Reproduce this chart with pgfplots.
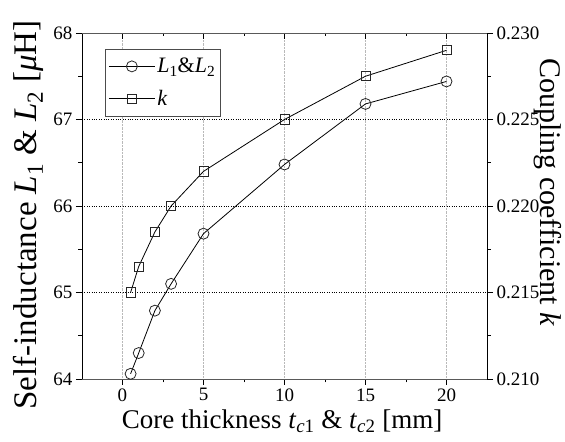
\documentclass[border=0pt]{standalone}
\usepackage{pgfplots}
\usepackage{pgfplotstable}
\pgfplotsset{compat=1.18}
\usepackage{fontspec}
\setmainfont{Liberation Serif}

% Core thickness sweep: self-inductance and coupling coefficient
\pgfplotstableread{
t    L      k
0.5  64.06  0.2150
1    64.30  0.2165
2    64.79  0.2185
3    65.10  0.2200
5    65.68  0.2220
10   66.48  0.2250
15   67.18  0.2275
20   67.44  0.2290
}\sweep

\pgfplotsset{
  common/.style={
    scale only axis, width=405pt, height=346pt,
    xmin=-2.5, xmax=22.5,
    /pgf/number format/assume math mode=true,
    tick label style={font=\rmfamily\fontsize{19}{19}\selectfont},
    major tick length=6pt, minor tick length=3.5pt,
    tick style={black, line width=0.6pt},
    axis line style={line width=0.9pt, -},
  },
  Lstyle/.style={black, line width=0.8pt, mark=o, mark size=5.5pt,
    mark options={fill=white, draw=black!85, line width=0.8pt}},
  kstyle/.style={black, line width=0.8pt, mark=square, mark size=4.6pt,
    mark options={fill=white, draw=black!85, line width=0.8pt}},
}

\begin{document}
\rmfamily
\begin{tikzpicture}[font=\rmfamily]
% left axis: self-inductance
\begin{axis}[common, name=main,
  axis x line*=bottom, axis y line*=left,
  x axis line style={black!65},
  ymin=64, ymax=68, ytick={64,65,66,67,68}, minor y tick num=1,
  xtick={0,5,10,15,20}, minor x tick num=1,
  tick align=outside,
  grid=major,
  x grid style={gray!55, densely dotted, line width=0.7pt},
  y grid style={black, dotted, line width=0.7pt},
  xlabel={Core thickness \textit{t}\textsubscript{\textit{c}1} \& \textit{t}\textsubscript{\textit{c}2} [mm]},
  xlabel style={font=\rmfamily\fontsize{27}{27}\selectfont, at={(axis description cs:0.494,-0.121)}, anchor=center},
  ylabel={Self-inductance \textit{L}\textsubscript{1} \& \textit{L}\textsubscript{2} [\textit{μ}H]},
  ylabel style={font=\rmfamily\fontsize{33}{33}\selectfont, at={(axis description cs:-0.133,0.474)}, anchor=center},
]
\addplot[Lstyle] table[x=t, y=L] {\sweep};
\end{axis}

% top axis line with inward ticks
\begin{axis}[common,
  axis x line*=top, axis y line=none,
  x axis line style={black!65},
  ymin=0, ymax=1,
  xtick={0,5,10,15,20}, minor x tick num=1, xticklabels={},
  tick align=inside,
]
\end{axis}

% right axis: coupling coefficient
\begin{axis}[common,
  axis y line*=right, axis x line=none,
  ymin=0.210, ymax=0.230,
  ytick={0.210,0.215,0.220,0.225,0.230}, minor y tick num=1,
  yticklabel style={/pgf/number format/.cd, fixed, fixed zerofill, precision=3},
  scaled y ticks=false,
  tick align=outside,
  ylabel={Coupling coefficient \textit{k}},
  ylabel style={font=\rmfamily\fontsize{30}{30}\selectfont, rotate=180, at={(axis description cs:1.151,0.54)}, anchor=center},
  legend style={at={(axis description cs:0.057,0.954)}, anchor=north west,
    draw=black!70, line width=0.8pt, font=\rmfamily\fontsize{22}{22}\selectfont,
    row sep=12pt, inner xsep=3pt, inner ysep=7pt},
  legend cell align=left,
  legend image code/.code={\draw[mark repeat=2, mark phase=2, #1]
    plot coordinates {(0pt,0pt) (23pt,0pt) (46pt,0pt)};},
]
\addlegendimage{Lstyle}
\addlegendentry{\textit{L}\textsubscript{1}\&\textit{L}\textsubscript{2}}
\addplot[kstyle] table[x=t, y=k] {\sweep};
\addlegendentry{\textit{k}}
\end{axis}

\pgfresetboundingbox
\useasboundingbox ([shift={(-82pt,-63pt)}]main.south west) rectangle ([shift={(78pt,33pt)}]main.north east);
\end{tikzpicture}
\end{document}
